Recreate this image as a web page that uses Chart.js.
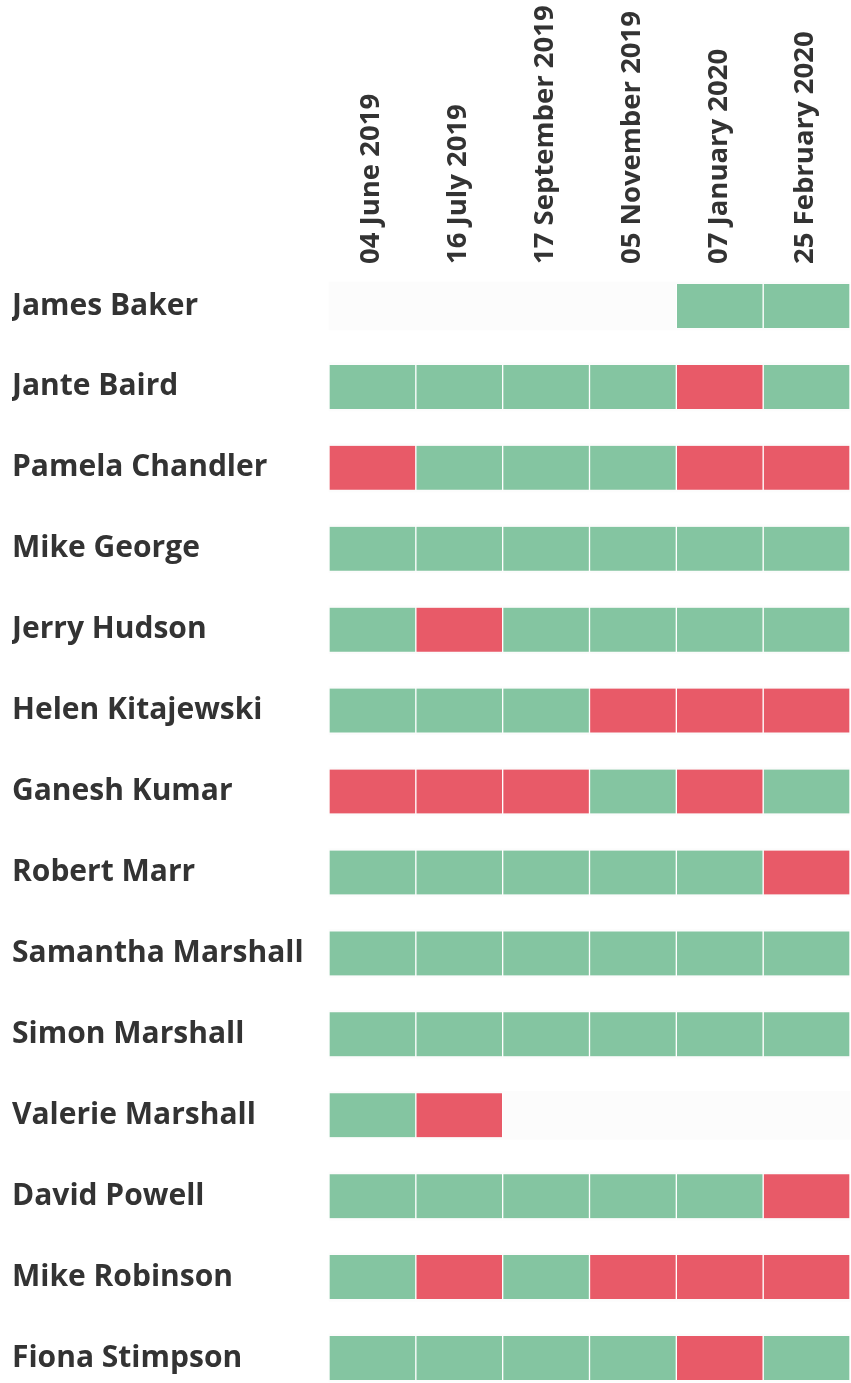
<!DOCTYPE html>
<html>
<head>
<meta charset="utf-8">
<script src="https://cdn.jsdelivr.net/npm/chart.js@4/dist/chart.umd.min.js"></script>
<style>
  html, body { margin: 0; padding: 0; background: #fff; }
  #wrap { width: 851px; height: 1383px; position: relative; }
</style>
</head>
<body>
<div id="wrap"><canvas id="matrixChart"></canvas></div>
<script>
// Data: one column per date, 1 = pass (green), 0 = fail (red), null = no record
const people = ['James Baker', 'Jante Baird', 'Pamela Chandler', 'Mike George', 'Jerry Hudson',
    'Helen Kitajewski', 'Ganesh Kumar', 'Robert Marr', 'Samantha Marshall', 'Simon Marshall',
    'Valerie Marshall', 'David Powell', 'Mike Robinson', 'Fiona Stimpson'];
const dates = ['04 June 2019', '16 July 2019', '17 September 2019', '05 November 2019',
    '07 January 2020', '25 February 2020'];

const june2019 = [null, 1, 0, 1, 1, 1, 0, 1, 1, 1, 1, 1, 1, 1];
const july2019 = [null, 1, 1, 1, 0, 1, 0, 1, 1, 1, 0, 1, 0, 1];
const sept2019 = [null, 1, 1, 1, 1, 1, 0, 1, 1, 1, null, 1, 1, 1];
const nov2019 = [null, 1, 1, 1, 1, 0, 1, 1, 1, 1, null, 1, 0, 1];
const jan2020 = [1, 0, 0, 1, 1, 0, 0, 1, 1, 1, null, 1, 0, 0];
const feb2020 = [1, 1, 0, 1, 1, 0, 1, 0, 1, 1, null, 0, 0, 1];

const columns = [june2019, july2019, sept2019, nov2019, jan2020, feb2020];

const GREEN = '#84c5a1';
const RED = '#e85a68';
const TEXT = '#333333';
const FONT_ROWS = { family: '"Open Sans", sans-serif', size: 30, weight: 'bold' };
const FONT_COLS = { family: '"Open Sans", sans-serif', size: 27.5, weight: 'bold' };

function initChart() {
    const ctx = document.getElementById('matrixChart').getContext('2d');

    // one floating-bar dataset per date column
    const cellSets = columns.map((col, k) => ({
        label: dates[k],
        data: col.map(v => (v == null ? null : [k, k + 1])),
        backgroundColor: col.map(v => (v === 1 ? GREEN : RED)),
        borderColor: '#ffffff',
        borderWidth: { left: 1, right: 1, top: 0, bottom: 0 },
        borderSkipped: false,
        grouped: false,
        barThickness: 44,
        clip: false,
        order: 1
    }));

    // faint row band, visible only where there is no record
    const bandSet = {
        label: 'band',
        data: people.map(() => [0, dates.length]),
        backgroundColor: '#fcfcfc',
        borderWidth: 0,
        grouped: false,
        barThickness: 48,
        clip: false,
        order: 10
    };

    new Chart(ctx, {
        type: 'bar',
        data: {
            labels: people,
            datasets: [bandSet, ...cellSets]
        },
        options: {
            indexAxis: 'y',
            responsive: true,
            maintainAspectRatio: false,
            animation: false,
            layout: { padding: { left: 12, right: 1, top: 0, bottom: 25 } },
            plugins: {
                legend: { display: false },
                tooltip: { enabled: false }
            },
            scales: {
                x: {
                    type: 'linear',
                    position: 'top',
                    min: 0,
                    max: dates.length,
                    grid: { display: false, drawTicks: false },
                    border: { display: false },
                    afterBuildTicks: scale => {
                        scale.ticks = dates.map((d, i) => ({ value: i + 0.5 }));
                    },
                    afterFit: scale => { scale.height = 306; },
                    ticks: {
                        autoSkip: false,
                        minRotation: 90,
                        maxRotation: 90,
                        padding: 42,
                        labelOffset: 32,
                        color: TEXT,
                        font: FONT_COLS,
                        callback: (value, index) => dates[index]
                    }
                },
                y: {
                    type: 'category',
                    offset: false,
                    grid: { display: false, drawTicks: false },
                    border: { display: false },
                    afterFit: scale => { scale.width = 317; },
                    ticks: {
                        crossAlign: 'far',
                        color: TEXT,
                        font: FONT_ROWS
                    }
                }
            }
        }
    });
}

initChart();
</script>
</body>
</html>
